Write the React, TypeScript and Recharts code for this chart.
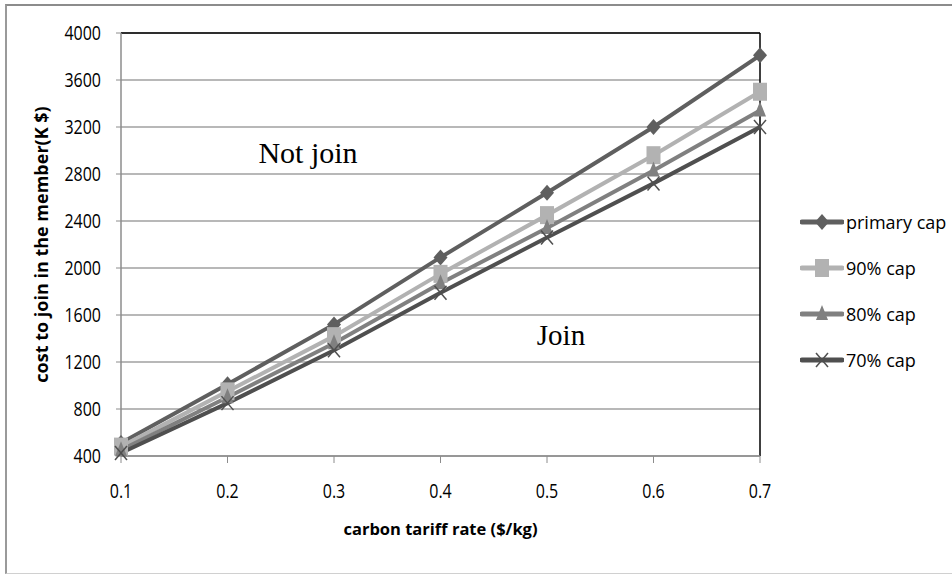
import {
  LineChart,
  Line,
  XAxis,
  YAxis,
  CartesianGrid,
  Legend,
  ReferenceLine,
} from "recharts";

// carbon tariff rate ($/kg)
const rates = [0.1, 0.2, 0.3, 0.4, 0.5, 0.6, 0.7];
// cost to join in the member (K $)
const primaryCap = [510, 1010, 1520, 2090, 2640, 3200, 3810];
const cap90 = [480, 950, 1420, 1950, 2450, 2960, 3500];
const cap80 = [450, 900, 1360, 1870, 2340, 2830, 3340];
const cap70 = [425, 850, 1300, 1790, 2260, 2720, 3200];

const yTicks = [400, 800, 1200, 1600, 2000, 2400, 2800, 3200, 3600, 4000];

const data = rates.map((rate, i) => ({
  rate,
  primary: primaryCap[i],
  c90: cap90[i],
  c80: cap80[i],
  c70: cap70[i],
}));

type Shape = "diamond" | "square" | "triangle" | "x";

const series: { key: string; name: string; color: string; shape: Shape }[] = [
  { key: "primary", name: "primary cap", color: "#5f5f5f", shape: "diamond" },
  { key: "c90", name: "90% cap", color: "#b2b2b2", shape: "square" },
  { key: "c80", name: "80% cap", color: "#808080", shape: "triangle" },
  { key: "c70", name: "70% cap", color: "#4f4f4f", shape: "x" },
];

const FONT = "'Open Sans', 'DejaVu Sans', sans-serif";

function Marker({ cx, cy, shape, color }: { cx: number; cy: number; shape: Shape; color: string }) {
  if (shape === "diamond") {
    return (
      <polygon
        points={`${cx},${cy - 8} ${cx + 7},${cy} ${cx},${cy + 8} ${cx - 7},${cy}`}
        fill={color}
      />
    );
  }
  if (shape === "square") {
    return <rect x={cx - 7} y={cy - 9} width={14} height={18} fill={color} />;
  }
  if (shape === "triangle") {
    return (
      <polygon
        points={`${cx},${cy - 9} ${cx + 6},${cy + 6} ${cx - 6},${cy + 6}`}
        fill={color}
      />
    );
  }
  return (
    <g stroke={color} strokeWidth={1.5}>
      <line x1={cx - 6} y1={cy - 7} x2={cx + 6} y2={cy + 7} />
      <line x1={cx - 6} y1={cy + 7} x2={cx + 6} y2={cy - 7} />
    </g>
  );
}

function makeDot(shape: Shape, color: string) {
  return (props: any) => {
    const { cx, cy, index } = props;
    if (cx == null || cy == null) return <g key={index} />;
    return (
      <g key={`${shape}-${index}`}>
        <Marker cx={cx} cy={cy} shape={shape} color={color} />
      </g>
    );
  };
}

// tall, narrow tick text like the original (stretched vertically)
function YTick(props: any) {
  const { x, y, payload } = props;
  return (
    <text
      x={x}
      y={y}
      textAnchor="end"
      fontFamily={FONT}
      fontSize={16}
      fill="#000"
      transform={`translate(0 ${y}) scale(1 1.2) translate(0 ${-y})`}
      dy="0.36em"
    >
      {payload.value}
    </text>
  );
}

function XTick(props: any) {
  const { x, y, payload } = props;
  return (
    <text
      x={x}
      y={y}
      textAnchor="middle"
      fontFamily={FONT}
      fontSize={16}
      fill="#000"
      transform={`translate(0 ${y}) scale(1 1.2) translate(0 ${-y})`}
      dy="0.71em"
    >
      {Number(payload.value).toFixed(1)}
    </text>
  );
}

function LegendContent() {
  return (
    <div style={{ fontFamily: FONT, fontSize: 18, color: "#000" }}>
      {series.map((s) => (
        <div key={s.key} style={{ display: "flex", alignItems: "center", height: 46 }}>
          <svg width={44} height={22}>
            <line x1={2} y1={11} x2={42} y2={11} stroke={s.color} strokeWidth={5} strokeLinecap="round" />
            <Marker cx={22} cy={11} shape={s.shape} color={s.color} />
          </svg>
          <span style={{ marginLeft: 2, whiteSpace: "nowrap" }}>{s.name}</span>
        </div>
      ))}
    </div>
  );
}

export default function App() {
  return (
    <div
      style={{
        position: "absolute",
        left: 0,
        top: 0,
        width: 952,
        height: 574,
        background: "#fff",
        overflow: "hidden",
      }}
    >
      <div
        style={{
          position: "absolute",
          left: 5,
          top: 4,
          width: 960,
          height: 567,
          borderTop: "2px solid #8c8c8c",
          borderLeft: "2px solid #9a9a9a",
          borderBottom: "1px solid #d0d0d0",
        }}
      />
      <div style={{ position: "absolute", left: 0, top: 0 }}>
        <LineChart
          width={952}
          height={574}
          data={data}
          margin={{ top: 33, right: 192, left: 0, bottom: 0 }}
        >
          <CartesianGrid vertical={false} stroke="#a0a0a0" strokeWidth={1.5} />
          <XAxis
            dataKey="rate"
            type="number"
            domain={[0.1, 0.7]}
            ticks={rates}
            height={118}
            tickSize={7}
            tickMargin={21}
            axisLine={{ stroke: "#8c8c8c", strokeWidth: 1.5 }}
            tickLine={{ stroke: "#8c8c8c" }}
            tick={<XTick />}
            label={{
              value: "carbon tariff rate ($/kg)",
              position: "insideBottom",
              offset: 39,
              style: { fill: "#000", fontSize: 16.5, fontWeight: 700, fontFamily: FONT },
            }}
          />
          <YAxis
            domain={[400, 4000]}
            ticks={yTicks}
            width={121}
            tickSize={5}
            tickMargin={15}
            interval={0}
            axisLine={{ stroke: "#8c8c8c", strokeWidth: 1.5 }}
            tickLine={{ stroke: "#8c8c8c" }}
            tick={<YTick />}
            label={{
              value: "cost to join in the member(K $)",
              angle: -90,
              position: "insideLeft",
              offset: 42,
              style: {
                fill: "#000",
                fontSize: 18,
                fontWeight: 700,
                fontFamily: FONT,
                textAnchor: "middle",
              },
            }}
          />
          <ReferenceLine y={4000} stroke="#000" strokeWidth={1.5} />
          <ReferenceLine x={0.7} stroke="#000" strokeWidth={1.5} />
          <Legend
            layout="vertical"
            align="center"
            verticalAlign="middle"
            content={<LegendContent />}
            wrapperStyle={{ left: 800, top: 199, width: 152 }}
          />
          {series.map((s) => (
            <Line
              key={s.key}
              type="linear"
              dataKey={s.key}
              name={s.name}
              stroke={s.color}
              strokeWidth={4}
              dot={makeDot(s.shape, s.color)}
              activeDot={false}
              isAnimationActive={false}
            />
          ))}
        </LineChart>
      </div>
      <svg
        width={952}
        height={574}
        style={{ position: "absolute", left: 0, top: 0, pointerEvents: "none" }}
      >
        <text x={308} y={163} textAnchor="middle" fontFamily="'Liberation Serif', serif" fontSize={30} fill="#000">
          Not join
        </text>
        <text x={561} y={345} textAnchor="middle" fontFamily="'Liberation Serif', serif" fontSize={29} fill="#000">
          Join
        </text>
      </svg>
    </div>
  );
}
